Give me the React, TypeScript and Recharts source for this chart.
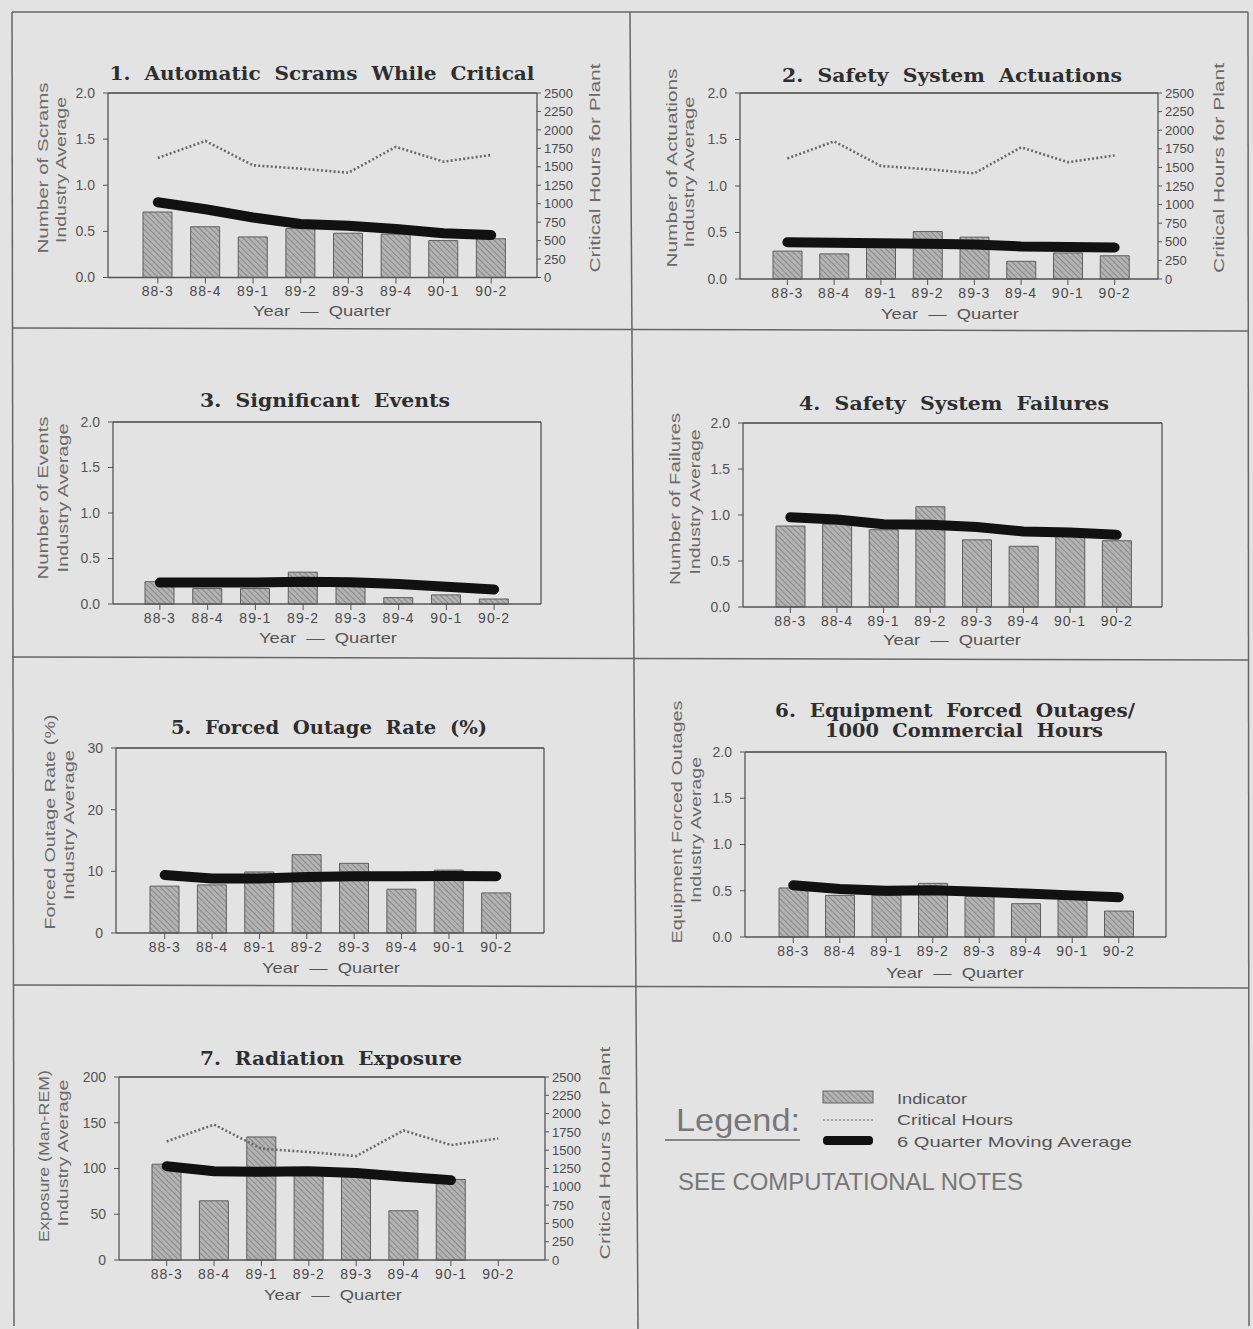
import React from 'react';
import { ComposedChart, Bar, Line, XAxis, YAxis, ReferenceLine } from 'recharts';

const quarters = ['88-3', '88-4', '89-1', '89-2', '89-3', '89-4', '90-1', '90-2'];
const criticalHours = [1620, 1850, 1520, 1475, 1420, 1770, 1570, 1660];

const scramsIndicator = [0.71, 0.55, 0.44, 0.53, 0.48, 0.47, 0.40, 0.42];
const scramsAverage = [0.815, 0.74, 0.65, 0.58, 0.56, 0.525, 0.48, 0.46];

const actuationsIndicator = [0.30, 0.27, 0.36, 0.51, 0.45, 0.19, 0.28, 0.25];
const actuationsAverage = [0.395, 0.39, 0.385, 0.38, 0.37, 0.35, 0.345, 0.34];

const eventsIndicator = [0.245, 0.17, 0.17, 0.35, 0.26, 0.07, 0.10, 0.055];
const eventsAverage = [0.235, 0.235, 0.235, 0.245, 0.24, 0.22, 0.19, 0.16];

const failuresIndicator = [0.88, 0.90, 0.84, 1.09, 0.73, 0.66, 0.77, 0.72];
const failuresAverage = [0.975, 0.95, 0.90, 0.895, 0.87, 0.82, 0.81, 0.785];

const outageRateIndicator = [7.6, 7.8, 9.9, 12.7, 11.3, 7.1, 10.2, 6.5];
const outageRateAverage = [9.4, 8.85, 8.85, 9.1, 9.2, 9.2, 9.25, 9.2];

const equipmentIndicator = [0.53, 0.45, 0.45, 0.58, 0.44, 0.36, 0.41, 0.28];
const equipmentAverage = [0.56, 0.52, 0.50, 0.505, 0.49, 0.47, 0.45, 0.43];

const exposureIndicator = [104.7, 64.7, 134.5, 96.4, 94.5, 53.8, 88, null];
const exposureAverage = [102.5, 97, 96.4, 97, 95, 91, 87.3, null];

const unitTicks = [0, 0.5, 1.0, 1.5, 2.0];
const outageTicks = [0, 10, 20, 30];
const exposureTicks = [0, 50, 100, 150, 200];
const hoursTicks = [0, 250, 500, 750, 1000, 1250, 1500, 1750, 2000, 2250, 2500];

const SANS = 'Liberation Sans, Arial, sans-serif';
const SERIF = 'DejaVu Serif, serif';

type PanelProps = {
  l: number; t: number; r: number; b: number; padL: number; padR: number;
  indicator: (number | null)[]; average: (number | null)[]; hours?: number[];
  ticks: number[]; fmt: (v: number) => string;
};

function Panel({ l, t, r, b, padL, padR, indicator, average, hours, ticks, fmt }: PanelProps) {
  const data = quarters.map((q, i) => ({
    q,
    ind: indicator[i],
    avg: average[i],
    hrs: hours ? hours[i] : null,
  }));
  const LW = 70, RW = 80, XH = 45, MT = 14;
  const width = r - l + LW + RW;
  const height = b - t + MT + XH;
  const top = ticks[ticks.length - 1];
  const axisStroke = { stroke: '#555', strokeWidth: 1.3 };
  return (
    <div style={{ position: 'absolute', left: l - LW, top: t - MT }}>
      <ComposedChart width={width} height={height} data={data} margin={{ top: MT, right: 0, bottom: 0, left: 0 }}>
        <XAxis
          dataKey="q"
          padding={{ left: padL, right: padR }}
          height={XH}
          axisLine={axisStroke}
          tickLine={{ stroke: '#555' }}
          tickSize={6}
          tickMargin={3}
          interval={0}
          tick={{ fill: '#4a4a4a', fontSize: 14, fontFamily: SANS, letterSpacing: 1 }}
        />
        <YAxis
          yAxisId="L"
          orientation="left"
          width={LW}
          domain={[0, top]}
          ticks={ticks}
          interval={0}
          tickFormatter={fmt}
          axisLine={axisStroke}
          tickLine={{ stroke: '#555' }}
          tickSize={5}
          tickMargin={8}
          tick={{ fill: '#555', fontSize: 14, fontFamily: SANS }}
        />
        <YAxis
          yAxisId="R"
          orientation="right"
          width={RW}
          domain={[0, 2500]}
          ticks={hoursTicks}
          interval={0}
          axisLine={axisStroke}
          tickLine={hours ? { stroke: '#555' } : false}
          tickSize={4}
          tickMargin={3}
          tick={hours ? { fill: '#4a4a4a', fontSize: 13, fontFamily: SANS } : false}
        />
        <ReferenceLine yAxisId="L" y={top} stroke="#444" strokeWidth={1.6} />
        <Bar
          yAxisId="L"
          dataKey="ind"
          barSize={29}
          fill="url(#hatch)"
          stroke="#5e5e5e"
          strokeWidth={1}
          isAnimationActive={false}
        />
        {hours ? (
          <Line
            yAxisId="R"
            dataKey="hrs"
            type="linear"
            stroke="#6a6a6a"
            strokeWidth={2.6}
            strokeDasharray="2 2.2"
            dot={false}
            isAnimationActive={false}
          />
        ) : null}
        <Line
          yAxisId="L"
          dataKey="avg"
          type="linear"
          stroke="#111"
          strokeWidth={10}
          strokeLinecap="round"
          strokeLinejoin="round"
          dot={false}
          isAnimationActive={false}
        />
      </ComposedChart>
    </div>
  );
}

const f1 = (v: number) => v.toFixed(1);
const f0 = (v: number) => String(v);

function VLabel({ x, y, len, text }: { x: number; y: number; len: number; text: string }) {
  return (
    <text
      x={x}
      y={y}
      transform={`rotate(-90 ${x} ${y})`}
      textAnchor="middle"
      dominantBaseline="central"
      fontFamily={SANS}
      fontSize={15}
      fill="#6a6a6a"
      textLength={len}
      lengthAdjust="spacingAndGlyphs"
    >
      {text}
    </text>
  );
}

function Title({ x, y, len, text }: { x: number; y: number; len: number; text: string }) {
  return (
    <text
      x={x}
      y={y}
      textAnchor="middle"
      dominantBaseline="central"
      fontFamily={SERIF}
      fontWeight="bold"
      fontSize={18}
      fill="#2e2e2e"
      textLength={len}
      lengthAdjust="spacingAndGlyphs"
      style={{ whiteSpace: 'pre' }}
    >
      {text}
    </text>
  );
}

function XTitle({ x, y }: { x: number; y: number }) {
  return (
    <text
      x={x}
      y={y}
      textAnchor="middle"
      dominantBaseline="central"
      fontFamily={SANS}
      fontSize={15}
      fill="#555"
      textLength={138}
      lengthAdjust="spacingAndGlyphs"
      style={{ whiteSpace: 'pre' }}
    >
      {'Year  —  Quarter'}
    </text>
  );
}

export default function App() {
  return (
    <div
      style={{
        position: 'absolute',
        left: 0,
        top: 0,
        width: 1253,
        height: 1329,
        background: '#e3e3e3',
        overflow: 'hidden',
      }}
    >
      <svg width={0} height={0} style={{ position: 'absolute' }}>
        <defs>
          <pattern id="hatch" patternUnits="userSpaceOnUse" width={4} height={4} patternTransform="rotate(-45)">
            <rect width={4} height={4} fill="#b3b3b3" />
            <line x1={0} y1={0} x2={0} y2={4} stroke="#7e7e7e" strokeWidth={1.6} />
          </pattern>
        </defs>
      </svg>

      <Panel l={108} t={92.5} r={537} b={277} padL={26} padR={22}
        indicator={scramsIndicator} average={scramsAverage} hours={criticalHours} ticks={unitTicks} fmt={f1} />
      <Panel l={740} t={93} r={1158} b={279} padL={24} padR={20}
        indicator={actuationsIndicator} average={actuationsAverage} hours={criticalHours} ticks={unitTicks} fmt={f1} />
      <Panel l={113} t={422} r={541} b={604} padL={23} padR={23}
        indicator={eventsIndicator} average={eventsAverage} ticks={unitTicks} fmt={f1} />
      <Panel l={743} t={423} r={1162} b={607} padL={24} padR={22}
        indicator={failuresIndicator} average={failuresAverage} ticks={unitTicks} fmt={f1} />
      <Panel l={116} t={748} r={544} b={933} padL={25} padR={24}
        indicator={outageRateIndicator} average={outageRateAverage} ticks={outageTicks} fmt={f0} />
      <Panel l={745} t={752} r={1166} b={937} padL={25} padR={24}
        indicator={equipmentIndicator} average={equipmentAverage} ticks={unitTicks} fmt={f1} />
      <Panel l={119} t={1077} r={545} b={1260} padL={24} padR={23}
        indicator={exposureIndicator} average={exposureAverage} hours={criticalHours} ticks={exposureTicks} fmt={f0} />

      <svg width={1253} height={1329} style={{ position: 'absolute', left: 0, top: 0, pointerEvents: 'none' }}>
        <g stroke="#666" strokeWidth={1.5} fill="none">
          <line x1={12} y1={12} x2={1248} y2={12} />
          <line x1={12} y1={12} x2={14} y2={1326} />
          <line x1={1248} y1={12} x2={1249} y2={1326} />
          <line x1={630} y1={12} x2={638} y2={1329} />
          <line x1={12} y1={328} x2={1249} y2={331} />
          <line x1={12} y1={657} x2={1249} y2={660} />
          <line x1={13} y1={985} x2={1249} y2={988} />
        </g>

        <Title x={322} y={73} len={425} text={'1.  Automatic  Scrams  While  Critical'} />
        <Title x={952} y={75} len={340} text={'2.  Safety  System  Actuations'} />
        <Title x={325} y={400} len={250} text={'3.  Significant  Events'} />
        <Title x={954} y={403} len={310} text={'4.  Safety  System  Failures'} />
        <Title x={329} y={727} len={316} text={'5.  Forced  Outage  Rate  (%)'} />
        <Title x={955} y={710} len={360} text={'6.  Equipment  Forced  Outages/'} />
        <Title x={964} y={730} len={278} text={'1000  Commercial  Hours'} />
        <Title x={331} y={1058} len={262} text={'7.  Radiation  Exposure'} />

        <VLabel x={42} y={168} len={171} text="Number of Scrams" />
        <VLabel x={60} y={170} len={146} text="Industry Average" />
        <VLabel x={671} y={168} len={199} text="Number of Actuations" />
        <VLabel x={688} y={172} len={151} text="Industry Average" />
        <VLabel x={42} y={498} len={163} text="Number of Events" />
        <VLabel x={62} y={498} len={149} text="Industry Average" />
        <VLabel x={674} y={499} len={172} text="Number of Failures" />
        <VLabel x={694} y={502} len={145} text="Industry Average" />
        <VLabel x={49} y={822} len={215} text="Forced Outage Rate (%)" />
        <VLabel x={68} y={825} len={150} text="Industry Average" />
        <VLabel x={676} y={822} len={243} text="Equipment Forced Outages" />
        <VLabel x={695} y={830} len={146} text="Industry Average" />
        <VLabel x={43} y={1156} len={172} text="Exposure (Man-REM)" />
        <VLabel x={62} y={1153} len={147} text="Industry Average" />

        <VLabel x={594} y={168} len={209} text="Critical Hours for Plant" />
        <VLabel x={1218} y={168} len={210} text="Critical Hours for Plant" />
        <VLabel x={604} y={1153} len={213} text="Critical Hours for Plant" />

        <XTitle x={322} y={310} />
        <XTitle x={950} y={313} />
        <XTitle x={328} y={637} />
        <XTitle x={952} y={639} />
        <XTitle x={331} y={967} />
        <XTitle x={955} y={972} />
        <XTitle x={333} y={1294} />

        <text x={676} y={1131} fontFamily={SANS} fontSize={32} fill="#777" textLength={124} lengthAdjust="spacingAndGlyphs">
          Legend:
        </text>
        <line x1={665} y1={1140} x2={800} y2={1140} stroke="#666" strokeWidth={1.5} />
        <rect x={823} y={1091} width={50} height={12} fill="url(#hatch)" stroke="#666" strokeWidth={1} />
        <line x1={823} y1={1120} x2={873} y2={1120} stroke="#888" strokeWidth={1.5} strokeDasharray="2 2" />
        <rect x={823} y={1136} width={50} height={9} rx={4} fill="#111" />
        <text x={897} y={1098} dominantBaseline="central" fontFamily={SANS} fontSize={15} fill="#555" textLength={70} lengthAdjust="spacingAndGlyphs">
          Indicator
        </text>
        <text x={897} y={1119} dominantBaseline="central" fontFamily={SANS} fontSize={15} fill="#555" textLength={116} lengthAdjust="spacingAndGlyphs">
          Critical Hours
        </text>
        <text x={897} y={1141} dominantBaseline="central" fontFamily={SANS} fontSize={15} fill="#555" textLength={235} lengthAdjust="spacingAndGlyphs">
          6 Quarter Moving Average
        </text>
        <text x={678} y={1181} dominantBaseline="central" fontFamily={SANS} fontSize={24} fill="#777" textLength={345} lengthAdjust="spacingAndGlyphs">
          SEE COMPUTATIONAL NOTES
        </text>
      </svg>
    </div>
  );
}
